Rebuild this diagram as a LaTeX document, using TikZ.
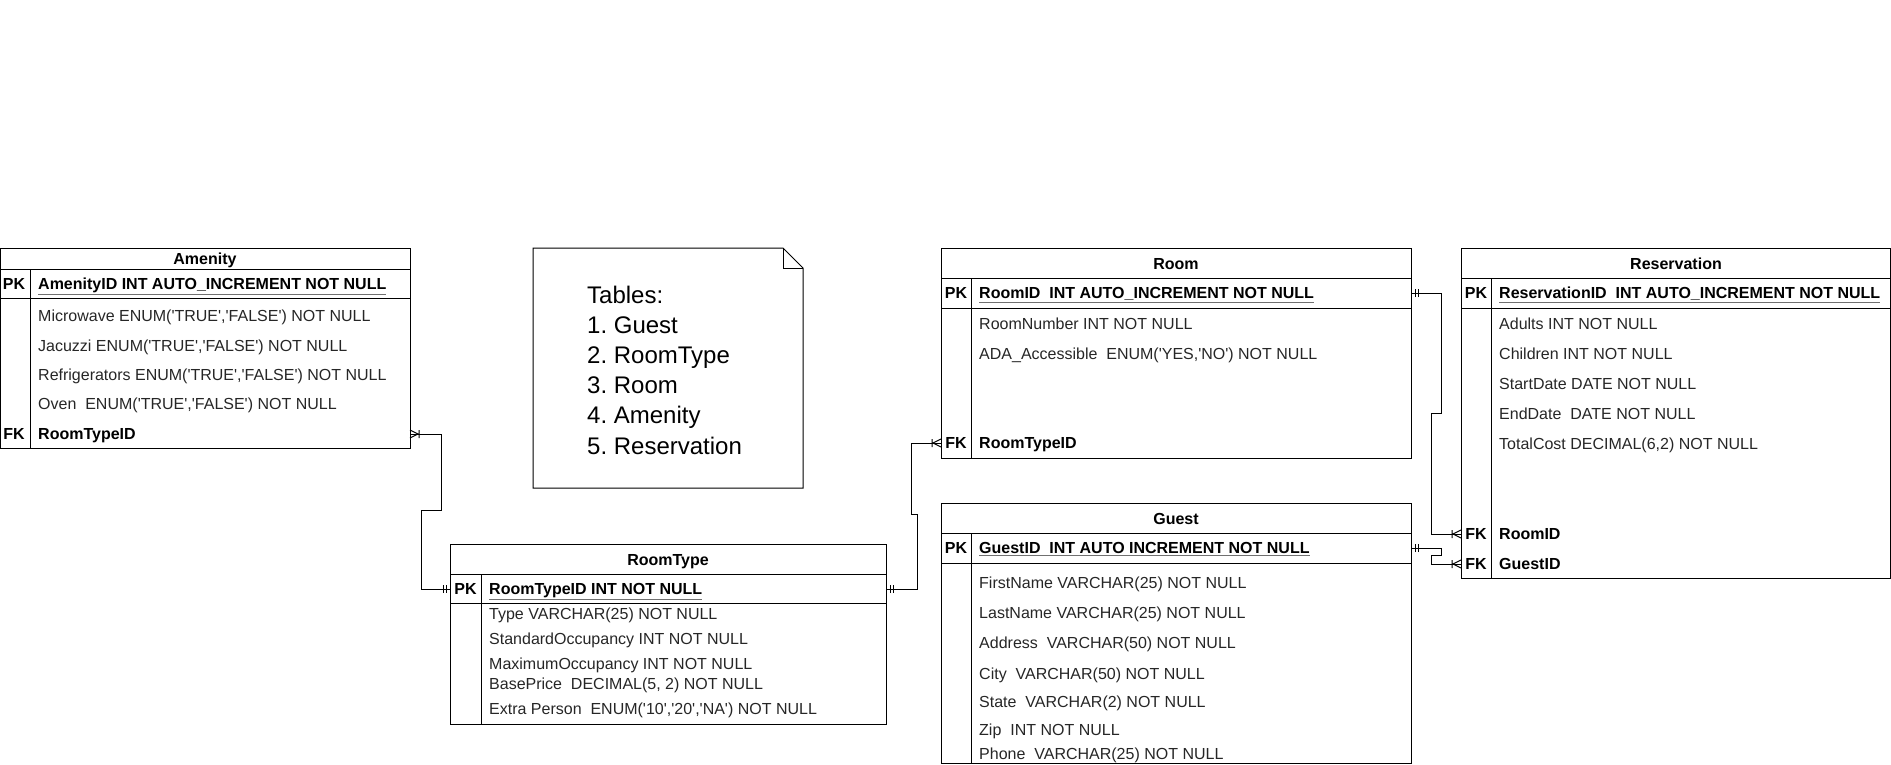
\documentclass[tikz,border=0pt]{standalone}
\usepackage{fontspec}
\setmainfont{Liberation Sans}
\frenchspacing
\newcommand\q{\textquotesingle}
\newcommand\fsz{\fontsize{16}{19}\selectfont}
\newcommand\nsz{\fontsize{24}{29}\selectfont}
\definecolor{fieldcol}{HTML}{262626}
\definecolor{ulcol}{HTML}{707070}
\newcommand\pkul[1]{{\color{ulcol}\underline{\color{black}#1}}}
\tikzset{
  frame/.style={draw=black, line width=1pt},
  conn/.style={draw=black, line width=1pt},
  fld/.style={anchor=west, inner sep=0pt, text height=11.5pt, text depth=0pt, font=\fsz, text=fieldcol},
  key/.style={anchor=center, inner sep=0pt, text height=11.5pt, text depth=0pt, font=\fsz\bfseries},
  pkf/.style={anchor=west, inner sep=0pt, text height=11.5pt, text depth=0pt, font=\fsz\bfseries},
  ttl/.style={anchor=center, inner sep=0pt, text height=11.5pt, text depth=0pt, font=\fsz\bfseries},
  notel/.style={anchor=west, inner sep=0pt, text height=17pt, text depth=0pt, font=\nsz},
  pics/mandone/.style={code={\draw[conn] (-4,-4)--(-4,4) (-7,-4)--(-7,4);}},
  pics/onemany/.style={code={\draw[conn] (0,-4)--(-8,0)--(0,4) (-9,-4)--(-9,4);}},
}
\begin{document}
\begin{tikzpicture}[x=1pt,y=-1pt]
\useasboundingbox (0,0) rectangle (1891,764);

% ---------------- Amenity ----------------
\draw[frame] (0.5,248) rectangle (410,448);
\draw[frame] (0.5,269) -- (410,269) (0.5,298) -- (410,298) (30,269) -- (30,448);
\node[ttl] (am-t) at (205,258.5) {Amenity};
\node[key] (am-pk) at (14,284) {PK};
\node[pkf] (am-id) at (38,284) {\pkul{AmenityID INT AUTO\_INCREMENT NOT NULL}};
\node[fld] (am-f1) at (38,316) {Microwave ENUM(\q TRUE\q,\q FALSE\q) NOT NULL};
\node[fld] (am-f2) at (38,346) {Jacuzzi ENUM(\q TRUE\q,\q FALSE\q) NOT NULL};
\node[fld] (am-f3) at (38,375) {Refrigerators ENUM(\q TRUE\q,\q FALSE\q) NOT NULL};
\node[fld] (am-f4) at (38,404) {Oven\ \ ENUM(\q TRUE\q,\q FALSE\q) NOT NULL};
\node[key] (am-fk) at (14,434) {FK};
\node[pkf] (am-rt) at (38,434) {RoomTypeID};
\coordinate (amfk) at (410,434);

% ---------------- Note ----------------
\draw[frame] (533,248) -- (783,248) -- (803,268) -- (803,488) -- (533,488) -- cycle;
\draw[frame] (783,248) -- (783,268) -- (803,268);
\node[notel] (n1) at (587,294.5) {Tables:};
\node[notel] (n2) at (587,324.7) {1. Guest};
\node[notel] (n3) at (587,354.9) {2. RoomType};
\node[notel] (n4) at (587,385.1) {3. Room};
\node[notel] (n5) at (587,415.3) {4. Amenity};
\node[notel] (n6) at (587,445.5) {5. Reservation};

% ---------------- RoomType ----------------
\draw[frame] (450,544) rectangle (886,724);
\draw[frame] (450,574) -- (886,574) (450,603) -- (886,603) (481,574) -- (481,724);
\node[ttl] (rt-t) at (668,559.5) {RoomType};
\node[key] (rt-pk) at (465.5,589) {PK};
\node[pkf] (rt-id) at (489,589) {\pkul{RoomTypeID INT NOT NULL}};
\node[fld] (rt-f1) at (489,614) {Type VARCHAR(25) NOT NULL};
\node[fld] (rt-f2) at (489,639) {StandardOccupancy INT NOT NULL};
\node[fld] (rt-f3) at (489,664) {MaximumOccupancy INT NOT NULL};
\node[fld] (rt-f4) at (489,684) {BasePrice\ \ DECIMAL(5, 2) NOT NULL};
\node[fld] (rt-f5) at (489,709) {Extra Person\ \ ENUM(\q 10\q,\q 20\q,\q NA\q) NOT NULL};
\coordinate (rtpkL) at (450,589);
\coordinate (rtpkR) at (886,589);

% ---------------- Room ----------------
\draw[frame] (941,248) rectangle (1411,458);
\draw[frame] (941,278) -- (1411,278) (941,308) -- (1411,308) (971,278) -- (971,458);
\node[ttl] (rm-t) at (1176,263.5) {Room};
\node[key] (rm-pk) at (956,293) {PK};
\node[pkf] (rm-id) at (979,293) {\pkul{RoomID\ \ INT AUTO\_INCREMENT NOT NULL}};
\node[fld] (rm-f1) at (979,324) {RoomNumber INT NOT NULL};
\node[fld] (rm-f2) at (979,354) {ADA\_Accessible\ \ ENUM(\q YES,\q NO\q) NOT NULL};
\node[key] (rm-fk) at (956,443) {FK};
\node[pkf] (rm-rt) at (979,443) {RoomTypeID};
\coordinate (rmfk) at (941,443);
\coordinate (rmpk) at (1411,293);

% ---------------- Guest ----------------
\draw[frame] (941,503) rectangle (1411,763);
\draw[frame] (941,533) -- (1411,533) (941,563) -- (1411,563) (971,533) -- (971,763);
\node[ttl] (g-t) at (1176,518.5) {Guest};
\node[key] (g-pk) at (956,548) {PK};
\node[pkf] (g-id) at (979,548) {\pkul{GuestID\ \ INT AUTO INCREMENT NOT NULL}};
\node[fld] (g-f1) at (979,583) {FirstName VARCHAR(25) NOT NULL};
\node[fld] (g-f2) at (979,613) {LastName VARCHAR(25) NOT NULL};
\node[fld] (g-f3) at (979,643) {Address\ \ VARCHAR(50) NOT NULL};
\node[fld] (g-f4) at (979,674) {City\ \ VARCHAR(50) NOT NULL};
\node[fld] (g-f5) at (979,702) {State\ \ VARCHAR(2) NOT NULL};
\node[fld] (g-f6) at (979,730) {Zip\ \ INT NOT NULL};
\node[fld] (g-f7) at (979,754) {Phone\ \ VARCHAR(25) NOT NULL};
\coordinate (gpk) at (1411,548);

% ---------------- Reservation ----------------
\draw[frame] (1461,248) rectangle (1890.5,578);
\draw[frame] (1461,278) -- (1890.5,278) (1461,308) -- (1890.5,308) (1491,278) -- (1491,578);
\node[ttl] (rs-t) at (1676,263.5) {Reservation};
\node[key] (rs-pk) at (1476,293) {PK};
\node[pkf] (rs-id) at (1499,293) {\pkul{ReservationID\ \ INT AUTO\_INCREMENT NOT NULL}};
\node[fld] (rs-f1) at (1499,324) {Adults INT NOT NULL};
\node[fld] (rs-f2) at (1499,354) {Children INT NOT NULL};
\node[fld] (rs-f3) at (1499,384) {StartDate DATE NOT NULL};
\node[fld] (rs-f4) at (1499,414) {EndDate\ \ DATE NOT NULL};
\node[fld] (rs-f5) at (1499,444) {TotalCost DECIMAL(6,2) NOT NULL};
\node[key] (rs-fk1) at (1476,534) {FK};
\node[pkf] (rs-rm) at (1499,534) {RoomID};
\node[key] (rs-fk2) at (1476,564) {FK};
\node[pkf] (rs-g) at (1499,564) {GuestID};
\coordinate (rsfk1) at (1461,534);
\coordinate (rsfk2) at (1461,564);

% ---------------- Connectors ----------------
\draw[conn] (amfk) -| (441,510) -| (421,589) -- (rtpkL);
\draw[conn] (rtpkR) -| (917,514) -| (911,443) -- (rmfk);
\draw[conn] (rmpk) -| (1441,413) -| (1431,534) -- (rsfk1);
\draw[conn] (gpk) -| (1441,555) -| (1431,564) -- (rsfk2);

\pic[rotate=180] at (amfk) {onemany};
\pic at (rtpkL) {mandone};
\pic[rotate=180] at (rtpkR) {mandone};
\pic at (rmfk) {onemany};
\pic[rotate=180] at (rmpk) {mandone};
\pic at (rsfk1) {onemany};
\pic[rotate=180] at (gpk) {mandone};
\pic at (rsfk2) {onemany};
\end{tikzpicture}
\end{document}
